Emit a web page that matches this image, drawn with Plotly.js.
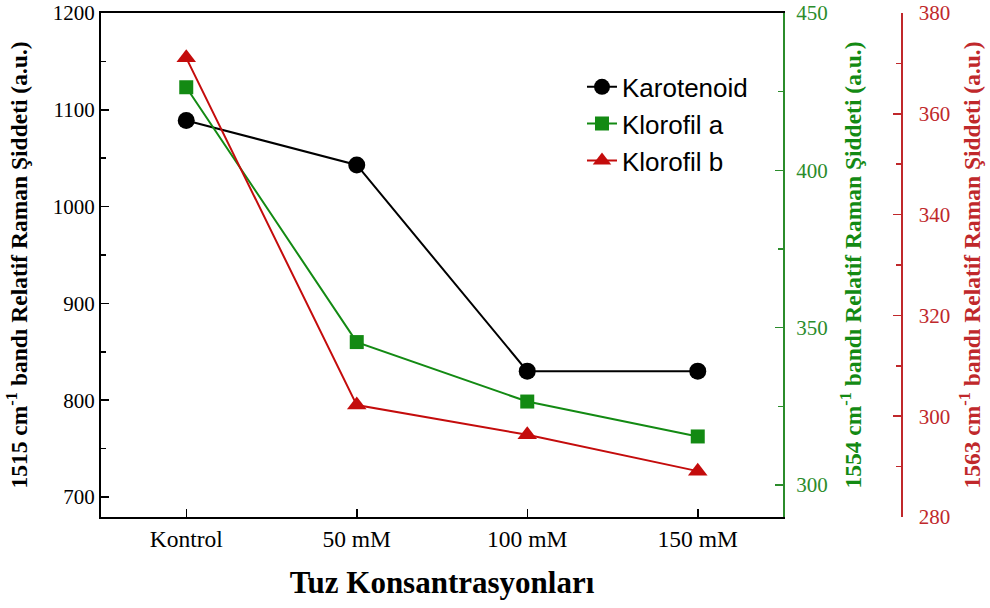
<!DOCTYPE html>
<html>
<head>
<meta charset="utf-8">
<script src="https://cdn.plot.ly/plotly-3.0.1.min.js"></script>
<style>html,body{margin:0;padding:0;background:#fff;}#chart{width:990px;height:608px;}</style>
</head>
<body>
<div id="chart"></div>
<script>
const categories = ["Kontrol", "50 mM", "100 mM", "150 mM"];
const karotenoid = [1089, 1043, 830, 830];
const klorofilA = [426.4, 345.4, 326.5, 315.4];
const klorofilB = [371.1, 302.2, 296.3, 289.1];

const seriesNames = ["Karotenoid", "Klorofil a", "Klorofil b"];
const black = "#000000", green = "#138a13", red = "#c40c0c";
const greenAxis = "#2b8c2b", redAxis = "#c0282b";

const serif = "Liberation Serif, Times New Roman, serif";
const sans = "Liberation Sans, Arial, sans-serif";

const L = 101, R = 20, W = 990;
const pw = W - L - R;
const xEnd = (783 - L) / pw;
const redPos = (901 - L) / pw;

const traces = [
  {x: categories, y: karotenoid, name: seriesNames[0], type: "scatter", mode: "lines+markers",
   line: {color: black, width: 2}, marker: {symbol: "circle", size: 17, color: black}, yaxis: "y"},
  {x: categories, y: klorofilA, name: seriesNames[1], type: "scatter", mode: "lines+markers",
   line: {color: green, width: 2}, marker: {symbol: "square", size: 14, color: green}, yaxis: "y2"},
  {x: categories, y: klorofilB, name: seriesNames[2], type: "scatter", mode: "lines+markers",
   line: {color: red, width: 2}, marker: {symbol: "triangle-up", size: 17, color: red}, yaxis: "y3"}
];

const layout = {
  width: 990, height: 608,
  margin: {l: L, r: R, t: 13, b: 91},
  paper_bgcolor: "#fff", plot_bgcolor: "#fff",
  showlegend: true,
  legend: {x: 0.5535, y: 0.90, xanchor: "left", yanchor: "top", bgcolor: "rgba(0,0,0,0)",
           font: {family: sans, size: 26, color: "#000"}, tracegroupgap: 0, itemwidth: 30},
  xaxis: {
    domain: [0, xEnd], type: "category", range: [-0.5, 3.5],
    showline: true, linecolor: "#000", linewidth: 2, mirror: true,
    ticks: "inside", ticklen: 8, tickwidth: 1.5, tickcolor: "#000",
    minor: {ticks: "inside", ticklen: 5, tickwidth: 1.5, tickcolor: "#000"},
    showgrid: false, zeroline: false,
    tickfont: {family: serif, size: 23.5, color: "#000"},
    title: {text: "<b>Tuz Konsantrasyonları</b>", font: {family: serif, size: 31, color: "#000"}, standoff: 20}
  },
  yaxis: {
    range: [679.3, 1200], dtick: 100, tick0: 700,
    showline: true, linecolor: "#000", linewidth: 2,
    ticks: "inside", ticklen: 8, tickwidth: 1.5, tickcolor: "#000",
    minor: {dtick: 50, ticks: "inside", ticklen: 5, tickwidth: 1.5, tickcolor: "#000"},
    showgrid: false, zeroline: false,
    tickfont: {family: serif, size: 21, color: "#000"},
    title: {text: "<b>1515 cm<sup>-1</sup> bandı Relatif Raman Şiddeti (a.u.)</b>", font: {family: serif, size: 23.5, color: "#000"}, standoff: 19}
  },
  yaxis2: {
    overlaying: "y", side: "right", anchor: "x",
    range: [289.8, 450], dtick: 50, tick0: 300,
    showline: true, linecolor: greenAxis, linewidth: 2,
    ticks: "inside", ticklen: 8, tickwidth: 1.5, tickcolor: greenAxis,
    minor: {dtick: 25, ticks: "inside", ticklen: 5, tickwidth: 1.5, tickcolor: greenAxis},
    showgrid: false, zeroline: false, ticklabelstandoff: 7,
    tickfont: {family: serif, size: 21, color: greenAxis},
    title: {text: "<b>1554 cm<sup>-1</sup> bandı Relatif Raman Şiddeti (a.u.)</b>", font: {family: serif, size: 23.5, color: green}, standoff: 18}
  },
  yaxis3: {
    overlaying: "y", side: "right", anchor: "free", position: redPos,
    range: [280, 380], dtick: 20, tick0: 280,
    showline: true, linecolor: redAxis, linewidth: 1.5,
    ticks: "inside", ticklen: 8, tickwidth: 1.5, tickcolor: redAxis,
    minor: {dtick: 10, ticks: "inside", ticklen: 5, tickwidth: 1.5, tickcolor: redAxis},
    showgrid: false, zeroline: false, ticklabelstandoff: 12,
    tickfont: {family: serif, size: 21, color: redAxis},
    title: {text: "<b>1563 cm<sup>-1</sup> bandı Relatif Raman Şiddeti (a.u.)</b>", font: {family: serif, size: 23.5, color: redAxis}, standoff: 14}
  }
};

Plotly.newPlot("chart", traces, layout, {displayModeBar: false, staticPlot: true});
</script>
</body>
</html>
